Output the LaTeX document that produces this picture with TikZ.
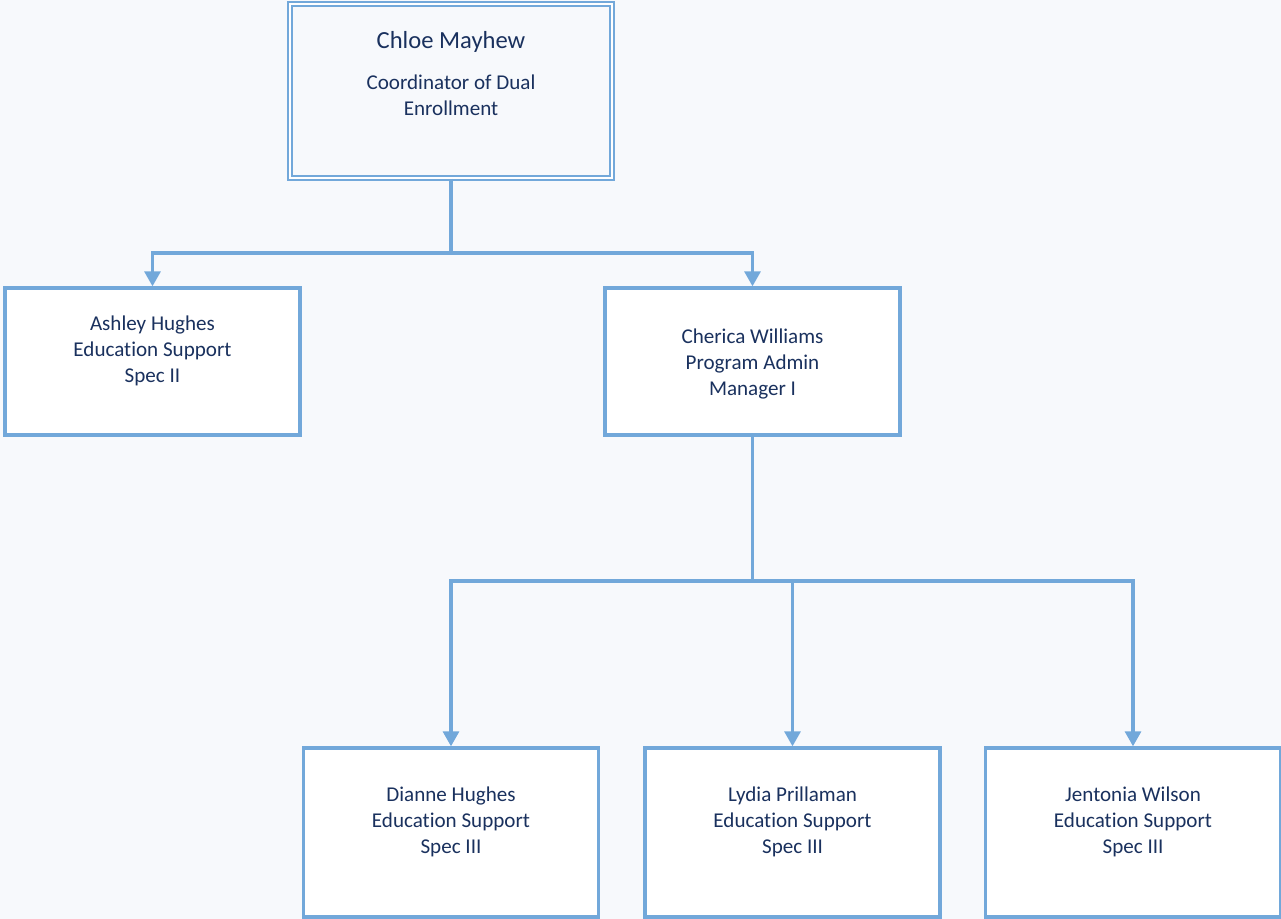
\documentclass[tikz,border=0pt]{standalone}
\usepackage{fontspec}
\setmainfont[Ligatures={NoCommon,NoContextual}]{Carlito}
\usetikzlibrary{arrows.meta}
\definecolor{pagebg}{HTML}{F7F9FC}
\definecolor{edgeblue}{HTML}{72A8DA}
\definecolor{inkblue}{HTML}{1A315E}
\tikzset{
  unit/.style={draw=edgeblue, fill=white, line width=1.9pt, rectangle,
    minimum width=5.9cm, minimum height=2.94cm, inner sep=0pt},
  lowunit/.style={unit, minimum height=3.38cm},
  headunit/.style={draw=edgeblue, double=white, double distance=1.1pt,
    line width=1.1pt, rectangle, minimum width=6.44cm, minimum height=3.48cm, inner sep=0pt},
  who/.style={text=inkblue, align=center, font=\fontsize{12}{14.7}\selectfont, inner sep=0pt},
  link/.style={draw=edgeblue, line width=1.9pt},
  feed/.style={link, -{Triangle[width=9pt,length=8.5pt]}}
}
\begin{document}
\begin{tikzpicture}[x=0.02cm,y=-0.02cm]
\fill[pagebg] (0,0) rectangle (1281,919);
\useasboundingbox (0,0) rectangle (1281,919);

% head of the unit
\node[headunit] (chloe) at (451,91) {};
\node[who, font=\fontsize{14}{17}\selectfont] (chloe-name) at (451,42) {Chloe Mayhew};
\node[who] (chloe-role) at (451,95) {Coordinator of Dual\\Enrollment};

% second row
\node[unit] (ashley) at (152.5,361.5) {};
\node[who] (ashley-t) at (152.5,351) {Ashley Hughes\\Education Support\\Spec II};
\node[unit] (cherica) at (752.5,361.5) {};
\node[who] (cherica-t) at (752.5,364) {Cherica Williams\\Program Admin\\Manager I};

% third row
\node[lowunit] (dianne) at (451,832.5) {};
\node[who] (dianne-t) at (451,822) {Dianne Hughes\\Education Support\\Spec III};
\node[lowunit] (lydia) at (792.5,832.5) {};
\node[who] (lydia-t) at (792.5,822) {Lydia Prillaman\\Education Support\\Spec III};
\node[lowunit] (jentonia) at (1133,832.5) {};
\node[who] (jentonia-t) at (1133,822) {Jentonia Wilson\\Education Support\\Spec III};

% connectors
\coordinate (split1) at (451,253);
\coordinate (split2) at (752.5,581);
\draw[link] (chloe.south) -- (split1);
\draw[feed] (split1) -| (ashley.north);
\draw[feed] (split1) -| (cherica.north);
\draw[link] (cherica.south) -- (split2);
\draw[feed] (split2) -| (dianne.north);
\draw[feed] (split2) -| (lydia.north);
\draw[feed] (split2) -| (jentonia.north);
\end{tikzpicture}
\end{document}
